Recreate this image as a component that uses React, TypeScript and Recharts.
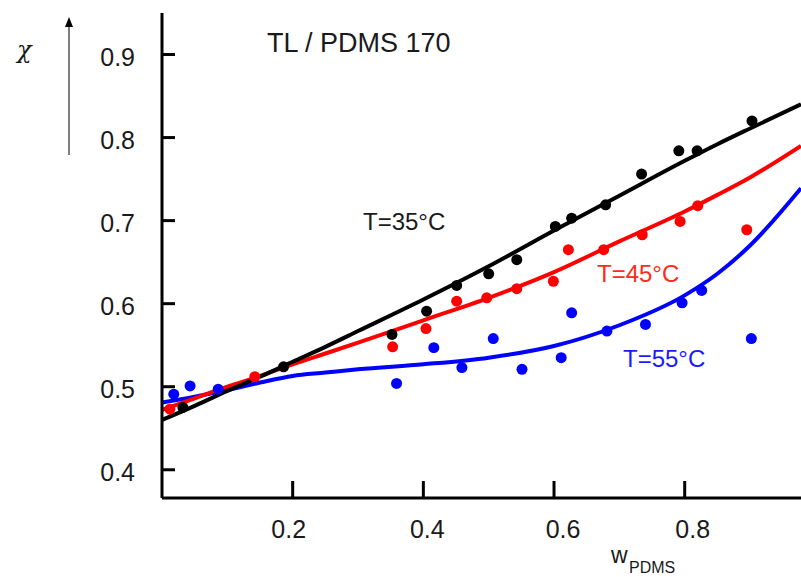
import React from "react";
import { ComposedChart, Line, Scatter, XAxis, YAxis } from "recharts";

// fitted curves, sampled along w_PDMS
const fitX = [0, 0.05, 0.1, 0.15, 0.2, 0.25, 0.3, 0.4, 0.5, 0.6, 0.7, 0.8, 0.85, 0.9, 0.978];
const fit35 = [0.46, 0.477, 0.495, 0.512, 0.53, 0.548, 0.567, 0.605, 0.645, 0.688, 0.73, 0.772, 0.792, 0.811, 0.84];
const fit45 = [0.472, 0.486, 0.5, 0.513, 0.527, 0.54, 0.553, 0.58, 0.607, 0.638, 0.675, 0.711, 0.731, 0.752, 0.79];
const fit55 = [0.481, 0.488, 0.496, 0.505, 0.513, 0.517, 0.521, 0.527, 0.535, 0.549, 0.574, 0.61, 0.636, 0.67, 0.739];

// measured points
const x35 = [0.032, 0.186, 0.352, 0.405, 0.451, 0.5, 0.543, 0.602, 0.627, 0.679, 0.734, 0.791, 0.819, 0.903];
const y35 = [0.475, 0.524, 0.563, 0.591, 0.622, 0.636, 0.653, 0.693, 0.703, 0.719, 0.756, 0.784, 0.784, 0.82];

const x45 = [0.012, 0.142, 0.353, 0.404, 0.451, 0.497, 0.543, 0.599, 0.622, 0.676, 0.735, 0.793, 0.82, 0.895];
const y45 = [0.473, 0.512, 0.548, 0.57, 0.603, 0.607, 0.618, 0.627, 0.665, 0.665, 0.683, 0.699, 0.718, 0.689];

const x55 = [0.018, 0.043, 0.086, 0.359, 0.416, 0.459, 0.507, 0.551, 0.611, 0.627, 0.681, 0.74, 0.796, 0.826, 0.902];
const y55 = [0.491, 0.501, 0.497, 0.504, 0.547, 0.523, 0.558, 0.521, 0.535, 0.589, 0.567, 0.575, 0.601, 0.616, 0.558];

const xTicks = [0.2, 0.4, 0.6, 0.8];
const yTicks = [0.4, 0.5, 0.6, 0.7, 0.8, 0.9];

const zip = (xs: number[], ys: number[]) => xs.map((x, i) => ({ x, y: ys[i] }));

const FONT = "'Liberation Sans', Arial, sans-serif";
const INK = "#1a1a1a";

// label nudges seen in the original figure
const xLabelShift: Record<string, number> = { "0.2": -4, "0.4": 4, "0.6": 9, "0.8": 8 };

function YTick(props: any) {
  const { x, y, payload } = props;
  const ax = x + 27;
  return (
    <g>
      <line x1={ax} x2={ax + 13} y1={y} y2={y} stroke="#000" strokeWidth={3} />
      <text x={x} y={y + 2} textAnchor="end" dominantBaseline="central" fontSize={25} fill={INK} fontFamily={FONT}>
        {payload.value.toFixed(1)}
      </text>
    </g>
  );
}

function XTick(props: any) {
  const { x, y, payload } = props;
  const ay = y - 20;
  const label = payload.value.toFixed(1);
  return (
    <g>
      <line x1={x} x2={x} y1={ay} y2={ay - 17} stroke="#000" strokeWidth={3} />
      <text x={x + (xLabelShift[label] ?? 0)} y={y + 11} textAnchor="middle" dominantBaseline="central" fontSize={25} fill={INK} fontFamily={FONT}>
        {label}
      </text>
    </g>
  );
}

const dot = (color: string) => (p: any) => <circle cx={p.cx} cy={p.cy} r={5.5} fill={color} />;

export default function App() {
  return (
    <div style={{ position: "absolute", left: 0, top: 0, width: 801, height: 577, background: "#fff" }}>
      <ComposedChart width={801} height={577} margin={{ top: 13, right: 0, bottom: 0, left: 0 }}>
        <XAxis
          type="number"
          dataKey="x"
          domain={[0, 0.978]}
          allowDataOverflow
          ticks={xTicks}
          height={79}
          tickSize={0}
          tickMargin={20}
          tickLine={false}
          axisLine={{ stroke: "#000", strokeWidth: 3 }}
          tick={(p: any) => <XTick {...p} />}
        />
        <YAxis
          type="number"
          dataKey="y"
          domain={[0.366, 0.95]}
          allowDataOverflow
          ticks={yTicks}
          width={162}
          tickSize={0}
          tickMargin={27}
          tickLine={false}
          axisLine={{ stroke: "#000", strokeWidth: 3 }}
          tick={(p: any) => <YTick {...p} />}
        />
        <Line data={zip(fitX, fit55)} dataKey="y" type="monotone" stroke="#0000ff" strokeWidth={4} dot={false} isAnimationActive={false} />
        <Line data={zip(fitX, fit45)} dataKey="y" type="monotone" stroke="#ff0000" strokeWidth={4} dot={false} isAnimationActive={false} />
        <Line data={zip(fitX, fit35)} dataKey="y" type="monotone" stroke="#000000" strokeWidth={4} dot={false} isAnimationActive={false} />
        <Scatter data={zip(x55, y55)} fill="#0000ff" shape={dot("#0000ff")} isAnimationActive={false} />
        <Scatter data={zip(x45, y45)} fill="#ff0000" shape={dot("#ff0000")} isAnimationActive={false} />
        <Scatter data={zip(x35, y35)} fill="#000000" shape={dot("#000000")} isAnimationActive={false} />
      </ComposedChart>
      <svg width={801} height={577} style={{ position: "absolute", left: 0, top: 0, pointerEvents: "none" }} fontFamily={FONT}>
        <text x={17} y={58} fontSize={24} fontStyle="italic" fontFamily="'DejaVu Serif', serif" fill={INK}>χ</text>
        <line x1={69} x2={69} y1={155} y2={24} stroke="#555" strokeWidth={1.5} />
        <polygon points="69,17 65,27 73,27" fill="#000" />
        <text x={267} y={52} fontSize={27} fill={INK}>TL / PDMS 170</text>
        <text x={363} y={230} fontSize={24} fill={INK}>T=35°C</text>
        <text x={597} y={282} fontSize={24} fill="#ff2a1a">T=45°C</text>
        <text x={623} y={367} fontSize={24} fill="#1a1aff">T=55°C</text>
        <text x={611} y={563} fontSize={23} fill={INK}>w</text>
        <text x={629} y={573} fontSize={16} fill={INK}>PDMS</text>
      </svg>
    </div>
  );
}
